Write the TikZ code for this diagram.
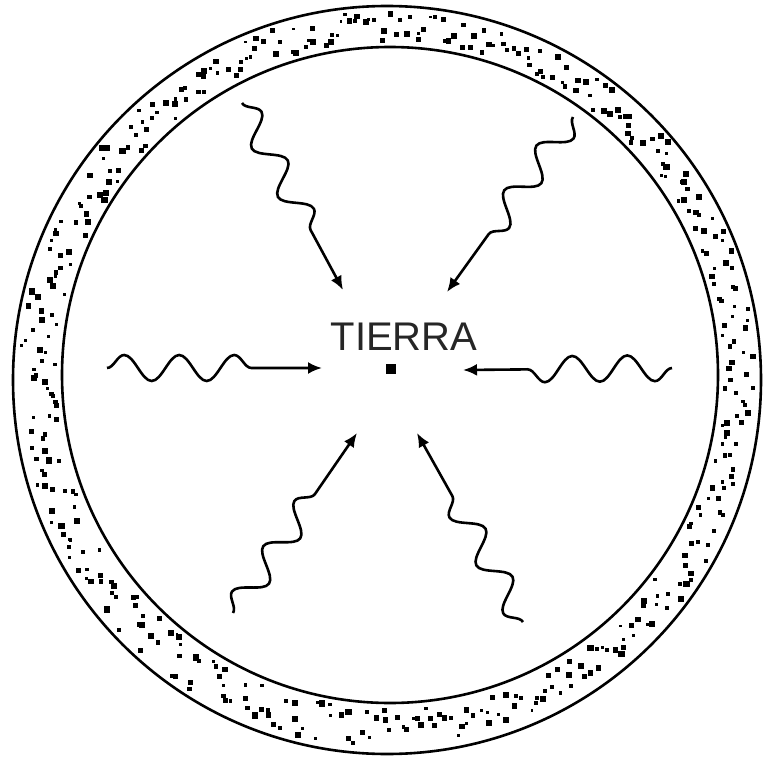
\documentclass[tikz,border=0pt]{standalone}
\usepackage{fontspec}
\setmainfont{Liberation Sans}
\usetikzlibrary{decorations.pathmorphing,arrows.meta}
\begin{document}
\begin{tikzpicture}[x=1pt,y=-1pt,
  ringline/.style={line width=2.6pt},
  ray/.style={line width=2.6pt, decorate,
    decoration={snake, segment length=55, amplitude=13, post length=#1},
    -{Latex[length=14pt,width=12pt]}},
  ray/.default=55,
  label/.style={font=\fontsize{40}{40}\selectfont, text=black!85, inner sep=0pt},
  dotsq/.style={fill=black}]
\useasboundingbox (0,0) rectangle (765,759);
% ring
\draw[ringline] (387,380) circle [radius=374];
\draw[ringline] (390,375) circle [radius=328];
\pgfmathsetseed{11}
\foreach \i in {1,...,440}{
  \pgfmathsetmacro{\a}{\i*0.8182+0.8*rnd}
  \pgfmathsetmacro{\t}{0.14+0.72*rnd}
  \pgfmathsetmacro{\s}{1.4+1.8*rnd}
  \pgfmathsetmacro{\px}{(1-\t)*(390+328*cos(\a))+\t*(387+374*cos(\a))}
  \pgfmathsetmacro{\py}{(1-\t)*(375+328*sin(\a))+\t*(380+374*sin(\a))}
  \fill[dotsq] (\px-\s,\py-\s) rectangle (\px+\s,\py+\s);
}
% centre
\node[label] (tierra) at (404,337) {TIERRA};
\node[fill=black, minimum size=10, inner sep=0pt] (earth) at (391,369) {};
% ray ends
\coordinate (s1) at (242,103); \coordinate (t1) at (343,290);
\coordinate (s2) at (573,117); \coordinate (t2) at (447,292);
\coordinate (s3) at (107,368); \coordinate (t3) at (322,368);
\coordinate (s4) at (672,368); \coordinate (t4) at (463,370);
\coordinate (s5) at (233,613); \coordinate (t5) at (357,433);
\coordinate (s6) at (523,622); \coordinate (t6) at (417,433);
\draw[ray=60] (s1) -- (t1);
\draw[ray=65] (s2) -- (t2);
\draw[ray=52] (s3) -- (t3);
\draw[ray=50] (s4) -- (t4);
\draw[ray=50] (s5) -- (t5);
\draw[ray=65] (s6) -- (t6);
\end{tikzpicture}
\end{document}
